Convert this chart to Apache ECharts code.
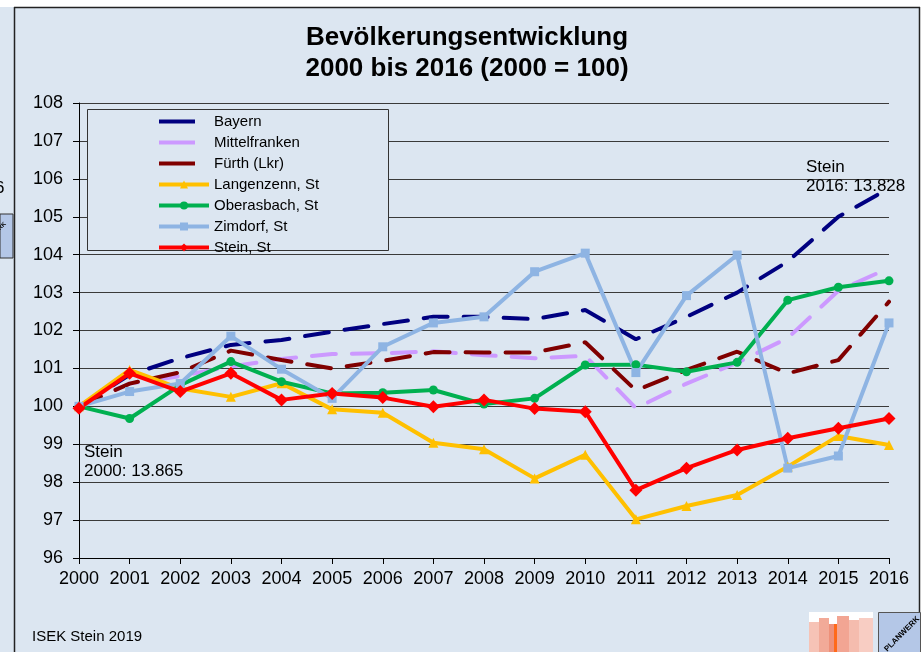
<!DOCTYPE html>
<html>
<head>
<meta charset="utf-8">
<script src="https://cdn.jsdelivr.net/npm/echarts@6/dist/echarts.min.js"></script>
<style>
  html, body { margin: 0; padding: 0; background: #ffffff; }
  #main { width: 922px; height: 652px; }
</style>
</head>
<body>
<div id="main"></div>
<script>
var years = ['2000', '2001', '2002', '2003', '2004', '2005', '2006', '2007', '2008',
  '2009', '2010', '2011', '2012', '2013', '2014', '2015', '2016'];

var bayern = [100, 100.83, 101.27, 101.62, 101.75, 101.97, 102.17, 102.36, 102.36, 102.3, 102.54, 101.77, 102.36, 103.0, 103.82, 105.0, 105.75];
var mittelfranken = [100, 100.6, 100.8, 101.05, 101.25, 101.38, 101.4, 101.45, 101.35, 101.27, 101.33, 99.95, 100.6, 101.15, 101.8, 103.05, 103.65];
var fuerth = [100, 100.6, 100.9, 101.47, 101.22, 101.0, 101.2, 101.43, 101.42, 101.42, 101.69, 100.42, 100.96, 101.44, 100.87, 101.22, 102.76];
var langenzenn = [100, 100.96, 100.47, 100.25, 100.61, 99.92, 99.83, 99.04, 98.87, 98.1, 98.72, 97.02, 97.37, 97.66, 98.41, 99.22, 98.98];
var oberasbach = [100, 99.68, 100.56, 101.18, 100.65, 100.34, 100.36, 100.43, 100.06, 100.21, 101.09, 101.1, 100.91, 101.16, 102.8, 103.14, 103.31];
var zimdorf = [100, 100.39, 100.6, 101.85, 100.98, 100.21, 101.57, 102.2, 102.36, 103.55, 104.04, 100.89, 102.92, 103.99, 98.37, 98.69, 102.2];
var stein = [99.95, 100.87, 100.39, 100.87, 100.17, 100.34, 100.23, 99.99, 100.17, 99.94, 99.86, 97.79, 98.37, 98.85, 99.16, 99.42, 99.68];

var bg = '#dce6f1';
var font = '"Liberation Sans", Arial, sans-serif';

function dashed(name, color, data) {
  return {
    name: name,
    type: 'line',
    data: data,
    symbol: 'none',
    lineStyle: { color: color, width: 4, type: [24, 16], cap: 'round' },
    itemStyle: { color: color }
  };
}

function marked(name, color, symbol, size, data) {
  return {
    name: name,
    type: 'line',
    data: data,
    symbol: symbol,
    symbolSize: size,
    lineStyle: { color: color, width: 4 },
    itemStyle: { color: color }
  };
}

// legend entry for a dashed series: one short dash, no marker
function dashLegend(name) {
  return { name: name, itemStyle: { opacity: 0 }, lineStyle: { width: 4, type: [36, 100], cap: 'butt' } };
}

function markLegend(name) {
  return { name: name, lineStyle: { width: 4 } };
}

var chart = echarts.init(document.getElementById('main'));

var option = {
  backgroundColor: bg,
  animation: false,
  textStyle: { fontFamily: font },
  title: {
    text: 'Bevölkerungsentwicklung\n2000 bis 2016 (2000 = 100)',
    left: 462,
    top: 17,
    textAlign: 'center',
    textStyle: { fontSize: 26, fontWeight: 'bold', color: '#000', lineHeight: 31, fontFamily: font }
  },
  legend: {
    orient: 'vertical',
    left: 157,
    top: 114,
    padding: 0,
    itemWidth: 50,
    itemHeight: 10,
    itemGap: 6,
    z: 10,
    textStyle: { fontSize: 15, color: '#000', lineHeight: 14, fontFamily: font },
    data: [
      dashLegend('Bayern'),
      dashLegend('Mittelfranken'),
      dashLegend('Fürth (Lkr)'),
      markLegend('Langenzenn, St'),
      markLegend('Oberasbach, St'),
      markLegend('Zimdorf, St'),
      markLegend('Stein, St')
    ]
  },
  grid: { left: 79, right: 33, top: 103, bottom: 94 },
  xAxis: {
    type: 'category',
    data: years,
    boundaryGap: false,
    axisLine: { lineStyle: { color: '#000', width: 1 } },
    axisTick: { length: 6, interval: 0, lineStyle: { color: '#000' } },
    axisLabel: { fontSize: 18, color: '#000', margin: 12, interval: 0, fontFamily: font }
  },
  yAxis: {
    type: 'value',
    min: 96,
    max: 108,
    interval: 1,
    axisLine: { show: true, lineStyle: { color: '#000', width: 1 } },
    axisTick: { show: true, length: 6, lineStyle: { color: '#000' } },
    axisLabel: { fontSize: 18, color: '#000', margin: 16, fontFamily: font },
    splitLine: { lineStyle: { color: '#3a3a3a', width: 1 } }
  },
  series: [
    dashed('Bayern', '#000080', bayern),
    dashed('Mittelfranken', '#cc99ff', mittelfranken),
    dashed('Fürth (Lkr)', '#800000', fuerth),
    marked('Langenzenn, St', '#ffc000', 'triangle', 10, langenzenn),
    marked('Oberasbach, St', '#00b050', 'circle', 9, oberasbach),
    marked('Zimdorf, St', '#8eb4e3', 'rect', 9, zimdorf),
    marked('Stein, St', '#ff0000', 'diamond', 13, stein)
  ],
  graphic: [
    // frame
    { type: 'rect', z: 1, shape: { x: 0, y: 0, width: 922, height: 7 }, style: { fill: '#ffffff' } },
    { type: 'rect', z: 1, shape: { x: 920, y: 0, width: 2, height: 652 }, style: { fill: '#ffffff' } },
    { type: 'line', z: 1, shape: { x1: 14, y1: 7.5, x2: 920, y2: 7.5 }, style: { stroke: '#222', lineWidth: 1.5 } },
    { type: 'line', z: 1, shape: { x1: 14.5, y1: 7, x2: 14.5, y2: 652 }, style: { stroke: '#222', lineWidth: 1.5 } },
    { type: 'line', z: 1, shape: { x1: 919.5, y1: 7, x2: 919.5, y2: 652 }, style: { stroke: '#222', lineWidth: 1.5 } },
    // left strip remnants
    { type: 'text', z: 1, x: -5, y: 180, style: { text: '6', font: '17px ' + font, fill: '#000' } },
    { type: 'rect', z: 1, shape: { x: 0, y: 214, width: 13, height: 44 }, style: { fill: '#b4c7e7', stroke: '#333', lineWidth: 1 } },
    { type: 'text', z: 2, x: 2, y: 226, rotation: Math.PI / 4, style: { text: 'RK', font: 'bold 6px ' + font, fill: '#000', align: 'center', verticalAlign: 'middle' } },
    // legend box
    { type: 'rect', z: 5, shape: { x: 87.5, y: 109.5, width: 301, height: 141 }, style: { fill: bg, stroke: '#333', lineWidth: 1 } },
    // annotations
    { type: 'text', z: 6, x: 84, y: 443, style: { text: 'Stein\n2000: 13.865', font: '17px ' + font, fill: '#000', lineHeight: 19 } },
    { type: 'text', z: 6, x: 806, y: 158, style: { text: 'Stein\n2016: 13.828', font: '17px ' + font, fill: '#000', lineHeight: 19 } },
    { type: 'text', z: 6, x: 32, y: 629, style: { text: 'ISEK Stein 2019', font: '15px ' + font, fill: '#000' } },
    // logos bottom right
    { type: 'rect', z: 6, shape: { x: 809, y: 612, width: 64, height: 40 }, style: { fill: '#ffffff' } },
    { type: 'rect', z: 6, shape: { x: 809, y: 622, width: 10, height: 30 }, style: { fill: '#f6c3b6' } },
    { type: 'rect', z: 6, shape: { x: 819, y: 618, width: 10, height: 34 }, style: { fill: '#f2aa98' } },
    { type: 'rect', z: 6, shape: { x: 829, y: 624, width: 8, height: 28 }, style: { fill: '#ee9079' } },
    { type: 'rect', z: 6, shape: { x: 834, y: 624, width: 3, height: 28 }, style: { fill: '#ff6a1a' } },
    { type: 'rect', z: 6, shape: { x: 837, y: 616, width: 12, height: 36 }, style: { fill: '#f2a593' } },
    { type: 'rect', z: 6, shape: { x: 849, y: 620, width: 10, height: 32 }, style: { fill: '#f5bcae' } },
    { type: 'rect', z: 6, shape: { x: 859, y: 618, width: 14, height: 34 }, style: { fill: '#f8cdc3' } },
    { type: 'rect', z: 6, shape: { x: 878.5, y: 612.5, width: 42, height: 40 }, style: { fill: '#b4c7e7', stroke: '#555', lineWidth: 1 } },
    { type: 'text', z: 7, x: 902, y: 634, rotation: Math.PI / 4, style: { text: 'PLANWERK', font: 'bold 8px ' + font, fill: '#000', align: 'center', verticalAlign: 'middle' } }
  ]
};

chart.setOption(option);
</script>
</body>
</html>
